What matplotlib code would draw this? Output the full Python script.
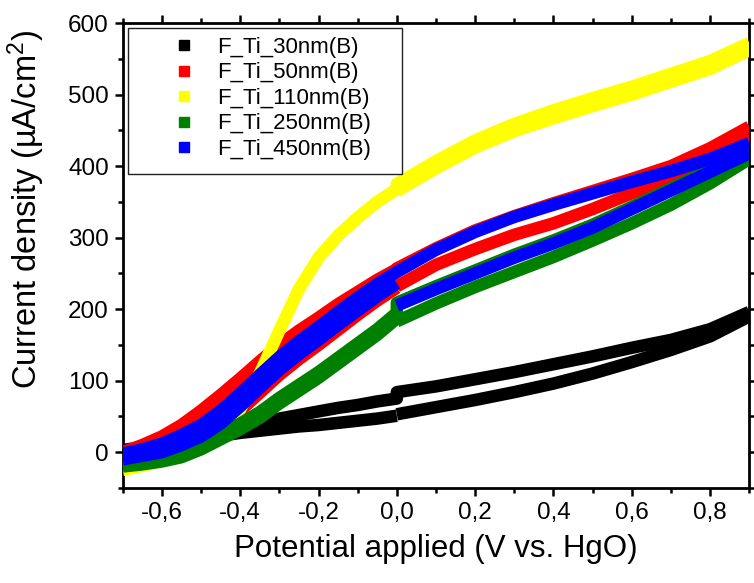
import matplotlib
matplotlib.use("Agg")
import matplotlib.pyplot as plt
from matplotlib.ticker import MultipleLocator, FuncFormatter
from matplotlib.lines import Line2D
from matplotlib.patches import Rectangle

plt.rcParams["font.family"] = ["Liberation Sans", "DejaVu Sans"]
plt.rcParams["mathtext.fontset"] = "custom"
plt.rcParams["mathtext.rm"] = "Liberation Sans"
plt.rcParams["mathtext.default"] = "regular"

# Potential grid (V vs. HgO): cathodic half and anodic half of the sweep
x_neg = [-0.7, -0.65, -0.6, -0.55, -0.5, -0.45, -0.4, -0.35, -0.3, -0.25,
         -0.2, -0.15, -0.1, -0.05, 0.0]
x_pos = [0.0, 0.1, 0.2, 0.3, 0.4, 0.5, 0.6, 0.7, 0.8, 0.9]

labels = ["F_Ti_30nm(B)", "F_Ti_50nm(B)", "F_Ti_110nm(B)",
          "F_Ti_250nm(B)", "F_Ti_450nm(B)"]
colors = ["#000000", "#ff0000", "#ffff00", "#008000", "#0000ff"]

# Current density (uA/cm2), upper and lower branches of each loop
ti30_up_neg = [3, 7, 11, 16, 21, 27, 35, 41, 47, 52, 57, 62, 66, 71, 75]
ti30_lo_neg = [0, 5, 9, 14, 18, 23, 27, 30, 33, 36, 38, 41, 44, 47, 51]
ti30_up_pos = [84, 92, 102, 112, 123, 134, 146, 157, 172, 196]
ti30_lo_pos = [53, 63, 73, 84, 96, 110, 126, 143, 162, 190]

ti50_up_neg = [0, 10, 22, 38, 58, 80, 103, 127, 150, 170, 188, 207, 224, 241, 256]
ti50_lo_neg = [-15, -9, -3, 6, 18, 36, 58, 83, 108, 130, 150, 171, 192, 212, 230]
ti50_up_pos = [257, 285, 310, 330, 348, 365, 382, 400, 425, 455]
ti50_lo_pos = [232, 262, 284, 304, 320, 340, 362, 385, 412, 442]

ti110_up_neg = [-25, -19, -12, -3, 8, 26, 60, 110, 170, 228, 272, 303, 328, 350, 368]
ti110_up_pos = [375, 407, 436, 459, 478, 495, 511, 529, 547, 572]
ti110_lo_pos = [365, 397, 426, 449, 467, 484, 500, 518, 536, 562]

ti250_up_neg = [-12, -9, -5, 1, 12, 26, 40, 56, 76, 94, 112, 132, 152, 172, 195]
ti250_lo_neg = [-20, -17, -13, -7, 4, 18, 32, 48, 68, 86, 104, 124, 144, 164, 187]
ti250_up_pos = [209, 232, 254, 276, 296, 318, 343, 369, 395, 420]
ti250_lo_pos = [183, 208, 231, 252, 273, 296, 320, 346, 376, 410]

ti450_up_neg = [-2, 4, 12, 24, 38, 58, 82, 108, 133, 155, 175, 196, 216, 235, 252]
ti450_lo_neg = [-10, -5, 0, 10, 22, 40, 64, 90, 115, 137, 157, 178, 198, 218, 236]
ti450_up_pos = [252, 283, 308, 329, 346, 362, 378, 393, 410, 432]
ti450_lo_pos = [205, 228, 250, 272, 292, 314, 340, 366, 392, 418]

series = [
    (ti30_up_neg, ti30_lo_neg, ti30_up_pos, ti30_lo_pos),
    (ti50_up_neg, ti50_lo_neg, ti50_up_pos, ti50_lo_pos),
    (ti110_up_neg, None, ti110_up_pos, ti110_lo_pos),
    (ti250_up_neg, ti250_lo_neg, ti250_up_pos, ti250_lo_pos),
    (ti450_up_neg, ti450_lo_neg, ti450_up_pos, ti450_lo_pos),
]

fig = plt.figure(figsize=(7.54, 5.83), dpi=100)
ax = fig.add_axes([0.1627, 0.163, 0.8311, 0.7975])

LW = 9
for k, (up_n, lo_n, up_p, lo_p) in enumerate(series):
    c = colors[k]
    kw = dict(color=c, lw=LW, solid_capstyle="butt", zorder=2 + k)
    ax.plot(x_neg + x_pos, up_n + up_p, **kw)
    if lo_n is not None:
        ax.plot(x_neg, lo_n, **kw)
    ax.plot(x_pos, lo_p, **kw)

ax.set_xlim(-0.7, 0.9)
ax.set_ylim(-50, 600)

ax.xaxis.set_major_locator(MultipleLocator(0.2))
ax.xaxis.set_minor_locator(MultipleLocator(0.1))
ax.yaxis.set_major_locator(MultipleLocator(100))
ax.yaxis.set_minor_locator(MultipleLocator(50))


def comma_fmt(v, pos):
    if abs(v) < 1e-9:
        v = 0.0
    return f"{v:.1f}".replace(".", ",")


ax.xaxis.set_major_formatter(FuncFormatter(comma_fmt))
ax.yaxis.set_major_formatter(FuncFormatter(lambda v, p: f"{v:.0f}"))

for s in ax.spines.values():
    s.set_linewidth(2.0)
ax.tick_params(which="both", direction="out", top=True, right=True,
               width=1.8, labelsize=17.5, pad=4)
ax.tick_params(which="major", length=6)
ax.tick_params(which="minor", length=3.6)

ax.set_xlabel("Potential applied (V vs. HgO)", fontsize=22.5, labelpad=7)
ax.set_ylabel("Current density (µA/cm$^2$)", fontsize=23.5)
ax.yaxis.set_label_coords(-0.121, 0.60)

# legend frame and entries
frame = Rectangle((0.0085, 0.675), 0.437, 0.314, transform=ax.transAxes,
                  facecolor="white", edgecolor="#222222", lw=1.0, zorder=10)
ax.add_patch(frame)
handles = [Line2D([], [], ls="none", marker="s", markersize=7.5,
                  markerfacecolor=c, markeredgecolor=c) for c in colors]
leg = ax.legend(handles, labels, loc="upper left",
                bbox_to_anchor=(0.0803, 0.970), frameon=False,
                fontsize=16, borderpad=0, borderaxespad=0,
                handlelength=1.0, handletextpad=1.0, labelspacing=0.2)
leg.set_zorder(11)

fig.savefig("out.png", dpi=100)
